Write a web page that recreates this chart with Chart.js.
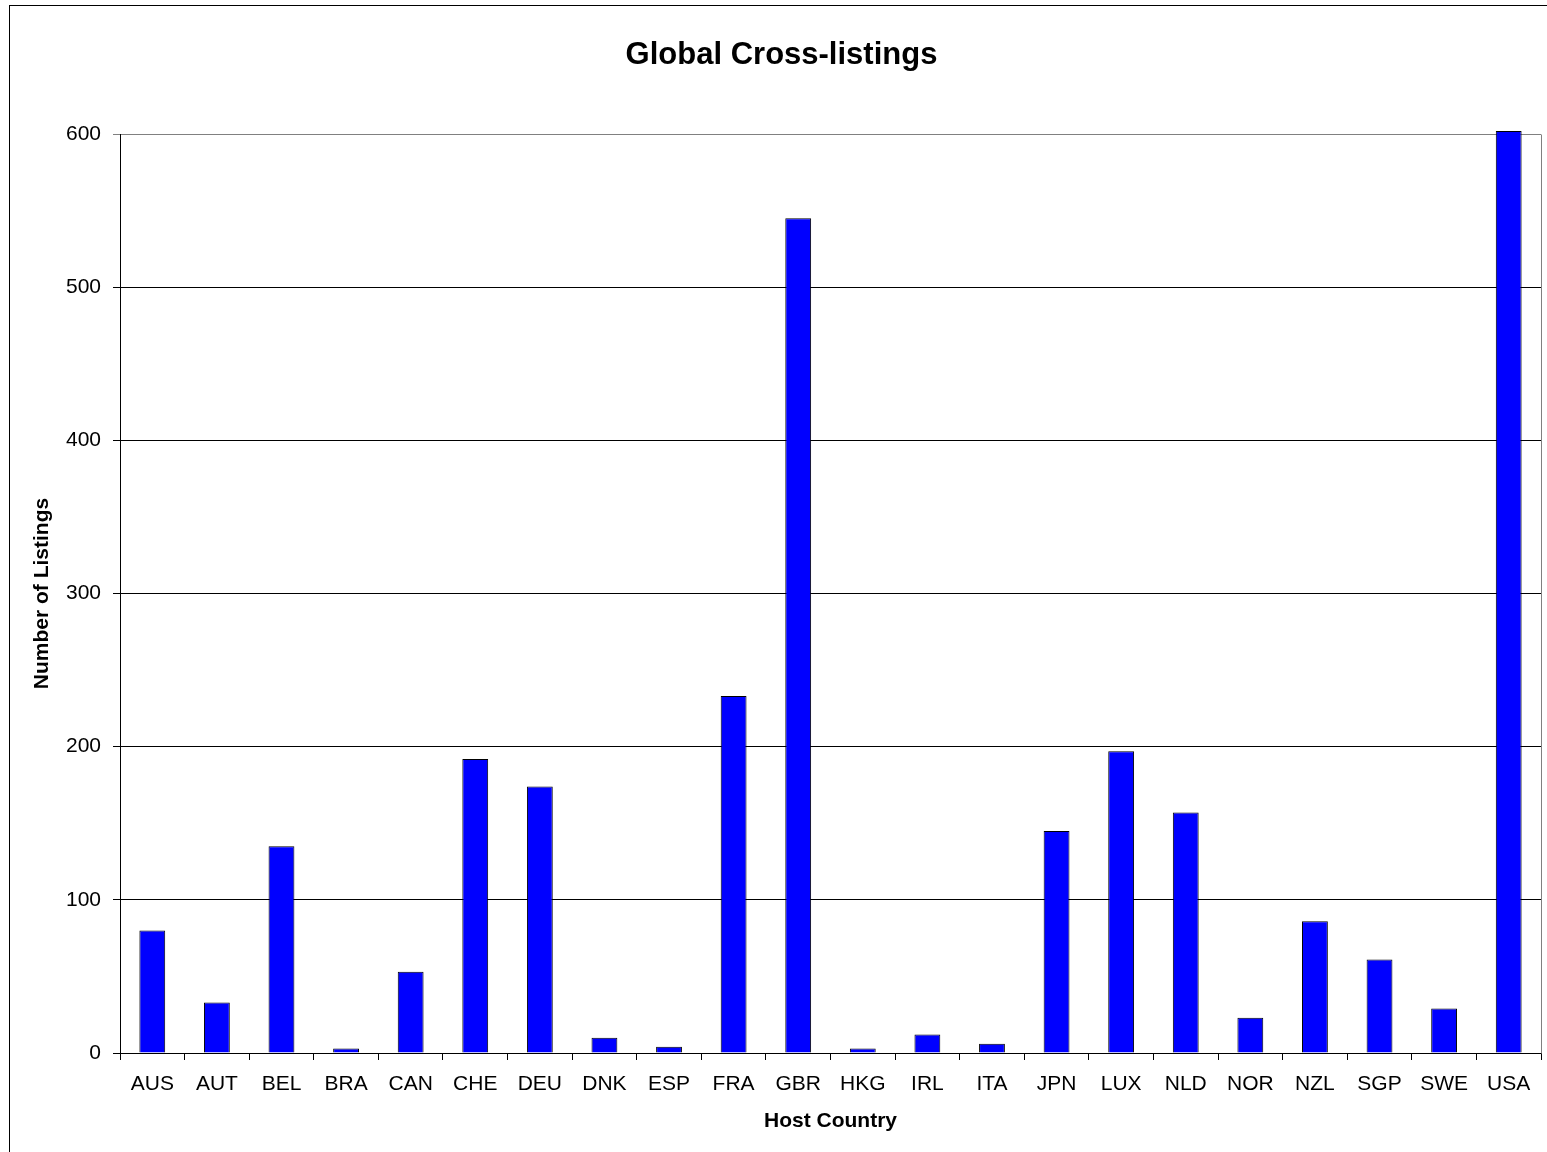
<!DOCTYPE html>
<html>
<head>
<meta charset="utf-8">
<script src="https://cdn.jsdelivr.net/npm/chart.js@4"></script>
<style>
  html, body { margin: 0; padding: 0; background: #fff; }
  body { width: 1547px; height: 1152px; overflow: hidden; position: relative; }
  #frame { position: absolute; left: 9px; top: 5px; width: 1600px; height: 1200px;
           border-left: 1px solid #000; border-top: 1px solid #000; box-sizing: border-box; }
  #wrap { position: absolute; left: 0; top: 0; width: 1547px; height: 1152px; }
</style>
</head>
<body>
<div id="frame"></div>
<div id="wrap"><canvas id="c" width="1547" height="1152"></canvas></div>
<script>
const categories = ["AUS","AUT","BEL","BRA","CAN","CHE","DEU","DNK","ESP","FRA","GBR","HKG","IRL","ITA","JPN","LUX","NLD","NOR","NZL","SGP","SWE","USA"];
const listings = [80, 33, 135, 3, 53, 192, 174, 10, 4, 233, 545, 3, 12, 6, 145, 197, 157, 23, 86, 61, 29, 602];
const yTicks = [0, 100, 200, 300, 400, 500, 600];
const chartTitle = "Global Cross-listings";
const xTitle = "Host Country";
const yTitle = "Number of Listings";

const FONT = '"Liberation Sans", Arial, Helvetica, sans-serif';

const plotBorder = {
  id: 'plotBorder',
  afterDatasetsDraw(chart) {
    const { ctx, chartArea: a } = chart;
    ctx.save();
    ctx.strokeStyle = '#808080';
    ctx.lineWidth = 1;
    ctx.beginPath();
    ctx.moveTo(Math.round(a.right) + 0.5, Math.round(a.bottom) + 0.5);
    ctx.lineTo(Math.round(a.right) + 0.5, Math.round(a.top) + 0.5);
    ctx.stroke();
    ctx.restore();
  },
  afterDraw(chart) {
    const ctx = chart.ctx;
    ctx.save();
    ctx.fillStyle = '#000';
    ctx.font = 'bold 31px ' + FONT;
    ctx.textAlign = 'center';
    ctx.textBaseline = 'alphabetic';
    ctx.fillText(chartTitle, 781.5, 64);
    ctx.restore();
  }
};

new Chart(document.getElementById('c'), {
  type: 'bar',
  data: {
    labels: categories,
    datasets: [{
      data: listings,
      backgroundColor: '#0000FF',
      borderColor: '#000000',
      borderWidth: 1,
      barPercentage: 0.4,
      categoryPercentage: 1.0,
      clip: false
    }]
  },
  options: {
    responsive: false,
    animation: false,
    devicePixelRatio: 1,
    layout: { padding: { left: 0, right: 6, top: 134, bottom: 0 } },
    plugins: {
      legend: { display: false },
      tooltip: { enabled: false },
      title: { display: false }
    },
    scales: {
      x: {
        type: 'category',
        grid: { display: true, drawOnChartArea: false, drawTicks: true, tickLength: 7, color: '#000', offset: true },
        border: { display: true, color: '#000', width: 1 },
        ticks: { color: '#000', font: { family: FONT, size: 21 }, padding: 12, maxRotation: 0, autoSkip: false },
        title: { display: true, text: xTitle, color: '#000', font: { family: FONT, size: 21, weight: 'bold', lineHeight: 1.2 }, padding: { top: 0, bottom: 18 } },
        afterFit(scale) { scale.height = 99; }
      },
      y: {
        min: 0, max: 600,
        afterBuildTicks(scale) { scale.ticks = yTicks.map(v => ({ value: v })); },
        grid: {
          drawTicks: true, tickLength: 7,
          color: (c) => (c.tick && c.tick.value === 600) ? '#808080' : '#000'
        },
        border: { display: true, color: '#000', width: 1 },
        ticks: { color: '#000', font: { family: FONT, size: 21 }, padding: 12 },
        title: { display: true, text: yTitle, color: '#000', font: { family: FONT, size: 21, weight: 'bold', lineHeight: 1.2 }, padding: 30 },
        afterFit(scale) { scale.width = 120; }
      }
    }
  },
  plugins: [plotBorder]
});
</script>
</body>
</html>
